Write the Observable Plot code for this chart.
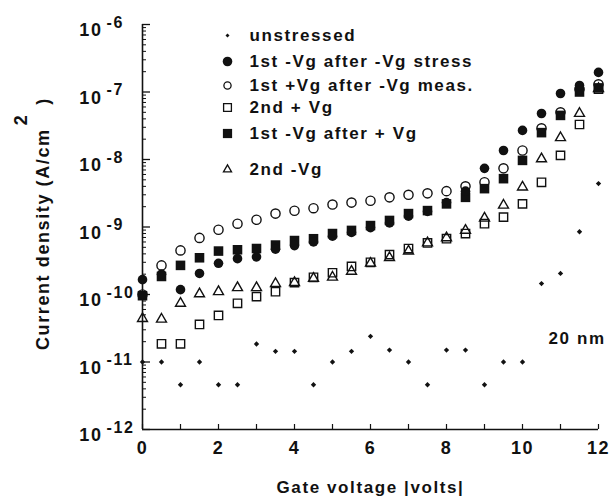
<!DOCTYPE html>
<html><head><meta charset="utf-8">
<script src="https://cdn.jsdelivr.net/npm/d3@7"></script>
<script src="https://cdn.jsdelivr.net/npm/@observablehq/plot@0.6"></script>
<style>
body{margin:0;background:#fff;}
#chart svg{font-family:"Liberation Sans",Arial,Helvetica,sans-serif;font-weight:bold;background:#fff;}
#chart svg text{letter-spacing:1.6px;fill:#111;}
</style></head><body><div id="chart"></div>
<script>
// Gate voltage (|V|)
const voltage = [0,0.5,1,1.5,2,2.5,3,3.5,4,4.5,5,5.5,6,6.5,7,7.5,8,8.5,9,9.5,10,10.5,11,11.5,12];
// Current density (A/cm^2)
const unstressed = [1e-11,1e-11,4.6e-12,1e-11,4.6e-12,4.6e-12,1.85e-11,1.44e-11,1.44e-11,4.6e-12,1e-11,1.44e-11,2.4e-11,1.5e-11,1e-11,4.6e-12,1.5e-11,1.5e-11,4.6e-12,1e-11,1e-11,1.45e-10,2.05e-10,8.5e-10,4.4e-9];
const firstNegAfterNegStress = [1.66e-10,2.0e-10,1.18e-10,2.05e-10,2.9e-10,3.4e-10,3.6e-10,4.7e-10,5.3e-10,6.0e-10,7.3e-10,8.3e-10,9.8e-10,1.15e-9,1.45e-9,1.7e-9,2.3e-9,3.4e-9,7.4e-9,1.36e-8,2.7e-8,4.8e-8,9.5e-8,1.25e-7,1.95e-7];
const firstPosAfterNegMeas = [1.0e-10,2.7e-10,4.5e-10,6.9e-10,9.1e-10,1.12e-9,1.28e-9,1.58e-9,1.74e-9,1.9e-9,2.15e-9,2.3e-9,2.45e-9,2.75e-9,3.0e-9,3.15e-9,3.4e-9,4.0e-9,4.6e-9,7.4e-9,1.36e-8,2.9e-8,5.0e-8,1.1e-7,1.3e-7];
const secondPos = [null,1.86e-11,1.86e-11,3.6e-11,4.9e-11,7.4e-11,9.3e-11,1.1e-10,1.5e-10,1.8e-10,2.1e-10,2.6e-10,3.0e-10,3.9e-10,4.8e-10,5.8e-10,6.7e-10,8.0e-10,1.12e-9,1.4e-9,2.2e-9,4.6e-9,1.15e-8,3.3e-8,1.1e-7];
const firstNegAfterPos = [9.6e-11,1.85e-10,2.7e-10,3.5e-10,4.4e-10,4.6e-10,4.8e-10,5.4e-10,6.3e-10,6.7e-10,8.0e-10,8.9e-10,1.05e-9,1.25e-9,1.58e-9,1.75e-9,2.2e-9,2.75e-9,3.7e-9,5.2e-9,9.7e-9,2.5e-8,4.5e-8,1.0e-7,1.15e-7];
const secondNeg = [4.4e-11,4.3e-11,7.4e-11,1.02e-10,1.1e-10,1.26e-10,1.26e-10,1.45e-10,1.5e-10,1.73e-10,1.8e-10,2.2e-10,2.9e-10,3.5e-10,4.4e-10,5.8e-10,6.9e-10,8.9e-10,1.35e-9,2.1e-9,3.9e-9,1.02e-8,2.1e-8,4.8e-8,1.12e-7];

const seriesNames = ["unstressed","1st -Vg after -Vg stress","1st +Vg after -Vg meas.","2nd + Vg","1st -Vg after + Vg","2nd -Vg"];
const seriesValues = [unstressed, firstNegAfterNegStress, firstPosAfterNegMeas, secondPos, firstNegAfterPos, secondNeg];

const yDecades = [1e-12,1e-11,1e-10,1e-9,1e-8,1e-7,1e-6];
const yExponents = ["-12","-11","-10","-9","-8","-7","-6"];
const xTickLabels = [0,2,4,6,8,10,12];
const xMinor = [0,1,2,3,4,5,6,7,8,9,10,11,12];
const annotation = "20 nm";
const xTitle = "Gate voltage |volts|";

// styles (not data)
const styles = [
  {symbol: d3.symbolDiamond2, r: 2.4, fill: "#111", stroke: "none", lr: 1.8},
  {symbol: "circle", r: 4.8, fill: "#111", stroke: "none", lr: 4.8},
  {symbol: "circle", r: 4.6, fill: "none", stroke: "#111", lr: 3.6},
  {symbol: "square", r: 4.7, fill: "none", stroke: "#111", lr: 4.4},
  {symbol: "square", r: 5.4, fill: "#111", stroke: "none", lr: 5.2},
  {symbol: "triangle", r: 3.7, fill: "none", stroke: "#111", lr: 3.0}
];
const drawOrder = [0,3,5,4,2,1];
const legendRowDy = [11, 37, 61, 83, 109, 145];

const W = 615, H = 496, mL = 142, mR = 17, mT = 24, mB = 67;
const frameW = W - mL - mR, frameH = H - mT - mB;

const minorY = [];
for (const d of yDecades.slice(0, -1)) for (let k = 2; k <= 9; k++) minorY.push(d * k);

const marks = [];
marks.push(Plot.ruleX([0], {strokeWidth: 1.6, stroke: "#111"}));
marks.push(Plot.ruleY([1e-12], {strokeWidth: 1.6, stroke: "#111"}));
marks.push(Plot.tickY(yDecades, {y: d => d, insetRight: frameW - 8, strokeWidth: 1.3, stroke: "#111"}));
marks.push(Plot.tickY(minorY, {y: d => d, insetRight: frameW - 4, strokeWidth: 1, stroke: "#111"}));
marks.push(Plot.tickX(xMinor, {x: d => d, insetTop: frameH - 5, strokeWidth: 1.2, stroke: "#111"}));
marks.push(Plot.text(yDecades, {y: d => d, text: () => "10", frameAnchor: "left", dx: -40, dy: 6, textAnchor: "end", lineAnchor: "middle", fontSize: 18}));
marks.push(Plot.text(yDecades, {y: d => d, text: (d, i) => yExponents[i], frameAnchor: "left", dx: -36, dy: -2, textAnchor: "start", lineAnchor: "middle", fontSize: 16}));
marks.push(Plot.text(xTickLabels, {x: d => d, text: d => String(d), frameAnchor: "bottom", dy: 19, lineAnchor: "middle", fontSize: 18}));
marks.push(Plot.text([xTitle], {frameAnchor: "bottom", dy: 58, lineAnchor: "middle", fontSize: 17}));
marks.push(Plot.text([annotation], {frameAnchor: "top-left", dx: 406, dy: 314, textAnchor: "start", lineAnchor: "middle", fontSize: 17}));

for (const s of drawOrder) {
  const st = styles[s];
  const rows = voltage.map((v, i) => ({v, j: seriesValues[s][i]})).filter(d => d.j != null);
  marks.push(Plot.dot(rows, {x: "v", y: "j", symbol: st.symbol, r: st.r, fill: st.fill, stroke: st.stroke, strokeWidth: 1.4}));
}
seriesNames.forEach((name, s) => {
  const st = styles[s];
  marks.push(Plot.dot([name], {frameAnchor: "top-left", dx: 85, dy: legendRowDy[s], symbol: st.symbol, r: st.lr, fill: st.fill, stroke: st.stroke, strokeWidth: 1.3}));
  marks.push(Plot.text([name], {frameAnchor: "top-left", dx: 107, dy: legendRowDy[s], textAnchor: "start", lineAnchor: "middle", fontSize: 17}));
});

const chart = Plot.plot({
  width: W, height: H,
  marginLeft: mL, marginRight: mR, marginTop: mT, marginBottom: mB,
  x: {domain: [0, 12], axis: null},
  y: {type: "log", domain: [1e-12, 1e-6], axis: null},
  marks
});
document.getElementById("chart").appendChild(chart);

// y-axis title with a raised exponent
const t = d3.select(chart).append("text")
  .attr("transform", "translate(49,350) rotate(-90)")
  .attr("text-anchor", "start")
  .attr("font-size", 18);
t.append("tspan").text("Current density (A/cm");
t.append("tspan").attr("dy", -22).attr("dx", 3).text("2");
t.append("tspan").attr("dy", 22).attr("dx", 9).text(")");
</script></body></html>
